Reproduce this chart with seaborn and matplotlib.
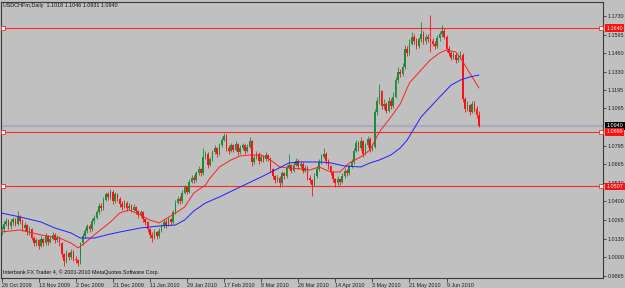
import pandas as pd
import seaborn as sns
from matplotlib import pyplot as plt

# daily USDCHFm bars, 26 Oct 2009 .. late Jun 2010
closes = [
    1.020, 1.024, 1.026, 1.022, 1.025, 1.027, 1.024, 1.029, 1.026, 1.021,
    1.023, 1.018, 1.020, 1.014, 1.010, 1.012, 1.008, 1.013, 1.010, 1.015,
    1.011, 1.013, 1.016, 1.012, 1.014, 1.010, 1.002, 0.997, 1.003, 1.000,
    1.004, 0.999, 0.998, 0.996, 1.010, 1.015, 1.019, 1.022, 1.020, 1.026,
    1.028, 1.032, 1.037, 1.035, 1.041, 1.045, 1.043, 1.047, 1.040, 1.045,
    1.042, 1.038, 1.036, 1.039, 1.035, 1.037, 1.034, 1.036, 1.033, 1.030,
    1.032, 1.027, 1.025, 1.020, 1.016, 1.014, 1.018, 1.015, 1.019, 1.022,
    1.025, 1.023, 1.027, 1.025, 1.032, 1.039, 1.042, 1.040, 1.046, 1.050,
    1.047, 1.054, 1.057, 1.055, 1.060, 1.063, 1.060, 1.072, 1.074, 1.066,
    1.070, 1.075, 1.078, 1.074, 1.080, 1.084, 1.087, 1.078, 1.076, 1.080,
    1.077, 1.081, 1.075, 1.078, 1.080, 1.076, 1.079, 1.083, 1.068, 1.071,
    1.074, 1.069, 1.072, 1.070, 1.073, 1.071, 1.063, 1.058, 1.055, 1.057,
    1.053, 1.060, 1.058, 1.064, 1.066, 1.062, 1.066, 1.069, 1.065, 1.067,
    1.062, 1.064, 1.057, 1.055, 1.052, 1.058, 1.063, 1.068, 1.072, 1.074,
    1.069, 1.065, 1.061, 1.056, 1.053, 1.056, 1.054, 1.058, 1.062, 1.060,
    1.065, 1.068, 1.076, 1.082, 1.078, 1.083, 1.074, 1.080, 1.085, 1.077,
    1.079, 1.104, 1.112, 1.119, 1.108, 1.110, 1.105, 1.112, 1.108, 1.115,
    1.127, 1.133, 1.131, 1.136, 1.149, 1.146, 1.153, 1.158, 1.155, 1.151,
    1.156, 1.160, 1.155, 1.158, 1.156, 1.155, 1.153, 1.151, 1.157, 1.160,
    1.162, 1.158, 1.149, 1.146, 1.143, 1.145, 1.141, 1.143, 1.145, 1.113,
    1.106, 1.109, 1.104, 1.110, 1.106, 1.1018, 1.0940,
]
highs = [
    1.022, 1.026, 1.028, 1.027, 1.027, 1.029, 1.028, 1.033, 1.030, 1.027,
    1.025, 1.024, 1.022, 1.021, 1.015, 1.014, 1.013, 1.015, 1.014, 1.017,
    1.016, 1.015, 1.018, 1.017, 1.016, 1.015, 1.011, 1.003, 1.005, 1.004,
    1.006, 1.005, 1.001, 0.999, 1.011, 1.017, 1.021, 1.024, 1.024, 1.028,
    1.030, 1.034, 1.039, 1.039, 1.043, 1.047, 1.047, 1.049, 1.048, 1.047,
    1.046, 1.043, 1.040, 1.041, 1.040, 1.039, 1.038, 1.038, 1.037, 1.034,
    1.034, 1.033, 1.028, 1.026, 1.021, 1.018, 1.020, 1.019, 1.021, 1.024,
    1.027, 1.027, 1.029, 1.028, 1.034, 1.041, 1.044, 1.044, 1.048, 1.052,
    1.051, 1.056, 1.059, 1.059, 1.062, 1.065, 1.064, 1.078, 1.076, 1.075,
    1.072, 1.077, 1.080, 1.079, 1.082, 1.086, 1.089, 1.088, 1.080, 1.082,
    1.081, 1.083, 1.082, 1.080, 1.082, 1.081, 1.081, 1.086, 1.084, 1.073,
    1.076, 1.075, 1.074, 1.073, 1.075, 1.074, 1.072, 1.064, 1.059, 1.059,
    1.058, 1.062, 1.061, 1.066, 1.074, 1.067, 1.068, 1.071, 1.070, 1.069,
    1.068, 1.066, 1.065, 1.059, 1.056, 1.060, 1.065, 1.070, 1.074, 1.078,
    1.075, 1.070, 1.066, 1.062, 1.057, 1.058, 1.057, 1.060, 1.064, 1.063,
    1.067, 1.070, 1.078, 1.084, 1.083, 1.086, 1.084, 1.082, 1.087, 1.086,
    1.081, 1.106, 1.115, 1.124, 1.120, 1.113, 1.111, 1.115, 1.114, 1.118,
    1.129, 1.136, 1.135, 1.139, 1.152, 1.151, 1.156, 1.161, 1.160, 1.157,
    1.158, 1.1685, 1.162, 1.160, 1.160, 1.1735, 1.157, 1.155, 1.159, 1.162,
    1.166, 1.164, 1.159, 1.151, 1.148, 1.147, 1.146, 1.145, 1.148, 1.146,
    1.115, 1.112, 1.110, 1.112, 1.112, 1.108, 1.1046,
]
lows = [
    1.016, 1.018, 1.022, 1.020, 1.020, 1.023, 1.022, 1.023, 1.024, 1.019,
    1.019, 1.016, 1.016, 1.012, 1.008, 1.008, 1.006, 1.007, 1.008, 1.009,
    1.009, 1.010, 1.012, 1.010, 1.011, 1.008, 1.000, 0.994, 0.996, 0.998,
    0.999, 0.997, 0.996, 0.994, 0.995, 1.009, 1.014, 1.017, 1.018, 1.019,
    1.024, 1.027, 1.031, 1.033, 1.034, 1.040, 1.041, 1.042, 1.038, 1.039,
    1.040, 1.036, 1.034, 1.035, 1.033, 1.034, 1.032, 1.033, 1.031, 1.028,
    1.029, 1.025, 1.023, 1.018, 1.014, 1.011, 1.013, 1.013, 1.014, 1.018,
    1.021, 1.021, 1.022, 1.023, 1.024, 1.031, 1.038, 1.038, 1.039, 1.045,
    1.045, 1.046, 1.053, 1.053, 1.054, 1.059, 1.058, 1.059, 1.070, 1.064,
    1.065, 1.069, 1.074, 1.072, 1.073, 1.079, 1.083, 1.076, 1.074, 1.075,
    1.075, 1.076, 1.073, 1.074, 1.077, 1.074, 1.075, 1.078, 1.065, 1.067,
    1.070, 1.067, 1.068, 1.068, 1.069, 1.069, 1.061, 1.056, 1.053, 1.054,
    1.050, 1.052, 1.056, 1.057, 1.063, 1.060, 1.061, 1.065, 1.063, 1.064,
    1.060, 1.061, 1.055, 1.053, 1.044, 1.051, 1.057, 1.062, 1.067, 1.071,
    1.067, 1.063, 1.059, 1.054, 1.050, 1.052, 1.052, 1.053, 1.057, 1.058,
    1.059, 1.064, 1.067, 1.075, 1.076, 1.077, 1.072, 1.073, 1.079, 1.075,
    1.076, 1.078, 1.102, 1.110, 1.106, 1.106, 1.103, 1.104, 1.106, 1.107,
    1.114, 1.125, 1.129, 1.130, 1.135, 1.144, 1.145, 1.152, 1.153, 1.149,
    1.150, 1.154, 1.153, 1.153, 1.154, 1.147, 1.151, 1.149, 1.150, 1.155,
    1.158, 1.156, 1.147, 1.144, 1.141, 1.142, 1.139, 1.140, 1.142, 1.111,
    1.104, 1.105, 1.102, 1.103, 1.104, 1.100, 1.0931,
]
first_open = 1.018

# moving averages, read at a number of bars
fast_ma_bar = [0, 8, 17, 25, 30, 33, 36, 40, 47, 51, 55, 60, 64, 68, 75, 79,
               83, 88, 90, 94, 99, 103, 107, 112, 116, 120, 124, 129, 133,
               137, 142, 146, 150, 155, 159, 163, 168, 172, 176, 181, 185,
               189, 192, 196, 198, 202, 206]
fast_ma = [1.0180, 1.0195, 1.0159, 1.0137, 1.0101, 1.0066, 1.0101, 1.0159,
           1.0252, 1.0316, 1.0338, 1.0302, 1.0266, 1.0245, 1.0316, 1.0359,
           1.0460, 1.0517, 1.0567, 1.0646, 1.0696, 1.0725, 1.0732, 1.0732,
           1.0696, 1.0646, 1.0639, 1.0632, 1.0624, 1.0646, 1.0610, 1.0610,
           1.0675, 1.0718, 1.0768, 1.0897, 1.1004, 1.1097, 1.1248, 1.1341,
           1.1413, 1.1463, 1.1484, 1.1470, 1.1427, 1.1319, 1.1212]
slow_ma_bar = [0, 8, 17, 23, 30, 34, 40, 47, 51, 60, 68, 75, 79, 83, 88, 94,
               103, 112, 118, 124, 129, 137, 142, 148, 155, 159, 163, 168,
               172, 175, 181, 185, 189, 194, 198, 202, 206]
slow_ma = [1.0316, 1.0288, 1.0252, 1.0209, 1.0173, 1.0137, 1.0137, 1.0166,
           1.0180, 1.0209, 1.0223, 1.0230, 1.0266, 1.0331, 1.0388, 1.0431,
           1.0503, 1.0574, 1.0624, 1.0675, 1.0682, 1.0682, 1.0675, 1.0653,
           1.0646, 1.0675, 1.0696, 1.0732, 1.0782, 1.0839, 1.1004, 1.1076,
           1.1147, 1.1233, 1.1269, 1.1291, 1.1305]

level_lines = [1.1640, 1.0899, 1.0507]
bid_price = 1.0940

y_ticks = [1.1730, 1.1595, 1.1460, 1.1330, 1.1195, 1.1065, 1.0795, 1.0665,
           1.0530, 1.0400, 1.0265, 1.0130, 1.0000, 0.9865]
x_tick_bars = [0, 16, 32, 48, 64, 80, 96, 112, 128, 144, 160, 176, 192]
x_tick_labels = ["26 Oct 2009", "13 Nov 2009", "2 Dec 2009", "21 Dec 2009",
                 "11 Jan 2010", "29 Jan 2010", "17 Feb 2010", "8 Mar 2010",
                 "26 Mar 2010", "14 Apr 2010", "3 May 2010", "21 May 2010",
                 "9 Jun 2010"]

bars = pd.DataFrame({"close": closes, "high": highs, "low": lows})
bars["bar"] = range(len(bars))
bars["open"] = [first_open] + closes[:-1]
bars["up"] = bars["close"] >= bars["open"]

sns.set_style("ticks")
plt.rcParams["font.family"] = ["Liberation Sans", "DejaVu Sans"]

BG = "#c0c0c0"
GREEN = "#1f8a3a"
RED = "#ff1010"
fs = 3.9

fig = plt.figure(figsize=(6.25, 2.88), dpi=100, facecolor=BG)
ax = fig.add_axes([1 / 625, 10 / 288, 602 / 625, 276 / 288])
ax.set_facecolor(BG)

# bid line
ax.axhline(bid_price, color="#a7adbd", lw=1.6, zorder=1)

# candles
colors = [GREEN if u else RED for u in bars["up"]]
ax.vlines(bars["bar"], bars["low"], bars["high"], colors=colors, lw=0.6, zorder=3)
body_lo = bars[["open", "close"]].min(axis=1)
body_h = (bars["close"] - bars["open"]).abs().clip(lower=0.0006)
ax.bar(bars["bar"], body_h, bottom=body_lo, width=0.7, color=colors,
       linewidth=0, zorder=3)

# moving averages
sns.lineplot(x=fast_ma_bar, y=fast_ma, color="#ff2020", lw=0.7, ax=ax, zorder=4)
sns.lineplot(x=slow_ma_bar, y=slow_ma, color="#2020ff", lw=0.7, ax=ax, zorder=4)

# horizontal levels with end markers
xmin, xmax = -0.22, 259.5
for lvl in level_lines:
    ax.axhline(lvl, color="#ff2828", lw=0.8, zorder=2)
    ax.plot([0.65, 258.8], [lvl, lvl], ls="none", marker="s", ms=2.6,
            mfc="white", mec="#ff2828", mew=0.6, zorder=5, clip_on=False)

ax.set_xlim(xmin, xmax)
ax.set_ylim(0.98506, 1.1828)

ax.yaxis.tick_right()
ax.set_yticks(y_ticks)
ax.set_yticklabels([f"{v:.4f}" for v in y_ticks])
ax.tick_params(axis="y", direction="out", length=2.5, width=0.5, pad=1,
               labelsize=fs, colors="#202020")
ax.set_xticks(x_tick_bars)
ax.set_xticklabels(x_tick_labels, ha="left")
ax.tick_params(axis="x", direction="out", length=3, width=0.5, pad=0.8,
               labelsize=fs, colors="#202020")
for s in ax.spines.values():
    s.set_color("#3a3a3a")
    s.set_linewidth(0.8)

# price tags on the right scale
tags = [(1.1640, "#ff1010"), (1.0940, "#000000"), (1.0899, "#ff1010"),
        (1.0507, "#ff1010")]
for price, fc in tags:
    ax.annotate(f"{price:.4f}", xy=(1.0, price), xycoords=("axes fraction", "data"),
                xytext=(2.5, 0), textcoords="offset points", ha="left", va="center",
                fontsize=fs, color="white", annotation_clip=False, zorder=6,
                bbox=dict(boxstyle="square,pad=0.25", fc=fc, ec="none"))

fig.text(3 / 625, 1 - 6 / 288, "USDCHFm,Daily  1.1018 1.1046 1.0931 1.0940",
         fontsize=fs, color="#101010", va="center", ha="left")
fig.text(3 / 625, 1 - 272 / 288,
         "Interbank FX Trader 4, \u00a9 2001-2010 MetaQuotes Software Corp.",
         fontsize=fs, color="#101010", va="center", ha="left")

ax.set_xlabel("")
ax.set_ylabel("")
fig.savefig("out.png", dpi=100, facecolor=BG)
